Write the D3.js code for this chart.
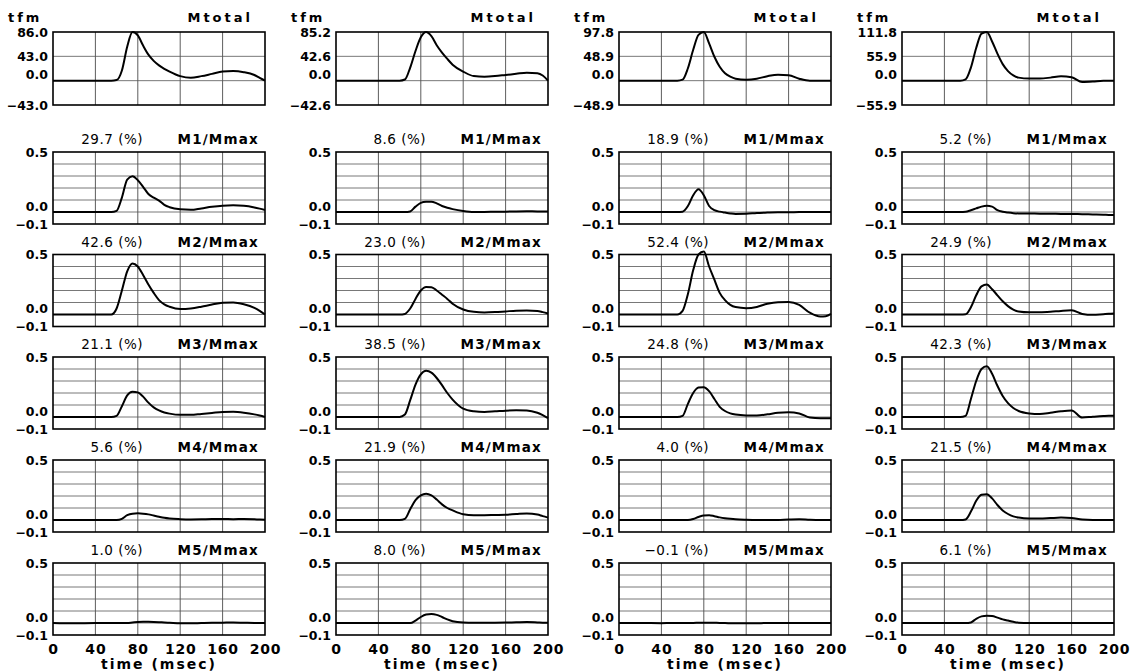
<!DOCTYPE html>
<html>
<head>
<meta charset="utf-8">
<script src="https://cdn.jsdelivr.net/npm/d3@7"></script>
<style>
  body { margin: 0; background: #fff; }
  text { font-family: "DejaVu Sans", sans-serif; fill: #000; }
</style>
</head>
<body>
<div id="chart-area"></div>
<script>
// sample times (msec), shared by every curve
var times = [0, 20, 40, 50, 55, 60, 65, 70, 75, 80, 85, 90, 95, 100, 105, 110, 120, 130, 140, 150, 160, 170, 180, 190, 195, 200]
var timeTicks = [0, 40, 80, 120, 160, 200]

// peak of the total moment per column (tfm)
var totalMax = [86.0, 85.2, 97.8, 111.8]
var modeNames = ["M1", "M2", "M3", "M4", "M5"]
// share of each mode (%), one row per column
var modePct = [
    [29.7, 42.6, 21.1, 5.6, 1.0],
    [8.6, 23.0, 38.5, 21.9, 8.0],
    [18.9, 52.4, 24.8, 4.0, -0.1],
    [5.2, 24.9, 42.3, 21.5, 6.1]
]

// Mtotal (tfm), one series per column
var mTotal = [
    [0, 0, 0, 0, 0, 1, 18, 60, 86, 80, 62, 46, 35, 27, 21, 16, 8, 5, 8, 12, 16, 17, 15, 10, 5, 0],
    [0, 0, 0, 0, 0, 0, 2, 23, 52, 76, 85.2, 78, 62, 49, 38, 28, 16, 8, 7, 8, 10, 12, 14, 13, 9, 0],
    [0, 0, 0, 0, 0, 2, 25, 62, 92, 97.8, 75, 48, 28, 15, 8, 4, 2, 4, 9, 12, 11, 4, 0, 0, 0, 0],
    [0, 0, 0, 0, 0, 3, 30, 75, 108, 111.8, 90, 62, 38, 22, 12, 7, 5, 5, 7, 10, 8, -3, -2, 0, 0, 0]
]

// Mi/Mmax, one series per column
var m1 = [
    [0, 0, 0, 0, 0, 0.01, 0.12, 0.27, 0.297, 0.265, 0.21, 0.15, 0.12, 0.095, 0.06, 0.04, 0.022, 0.018, 0.03, 0.043, 0.052, 0.056, 0.052, 0.038, 0.028, 0.017],
    [0, 0, 0, 0, 0, 0, 0, 0.005, 0.045, 0.076, 0.085, 0.086, 0.072, 0.05, 0.035, 0.024, 0.008, 0, 0, 0.002, 0.003, 0.005, 0.006, 0.005, 0.005, 0.004],
    [0, 0, 0, 0, 0, 0.003, 0.05, 0.14, 0.189, 0.14, 0.05, 0.015, 0.003, -0.005, -0.012, -0.016, -0.015, -0.008, -0.005, -0.003, -0.003, 0, 0, 0, 0, 0],
    [0, 0, 0, 0, 0, 0.002, 0.015, 0.03, 0.045, 0.052, 0.045, 0.015, 0.002, -0.005, -0.01, -0.012, -0.013, -0.014, -0.015, -0.016, -0.017, -0.018, -0.02, -0.022, -0.024, -0.025]
]
var m2 = [
    [0, 0, 0, 0, 0, 0.05, 0.2, 0.36, 0.426, 0.4, 0.33, 0.25, 0.18, 0.12, 0.085, 0.065, 0.045, 0.05, 0.065, 0.083, 0.097, 0.1, 0.085, 0.055, 0.03, 0],
    [0, 0, 0, 0, 0, 0, 0.005, 0.05, 0.13, 0.2, 0.23, 0.228, 0.2, 0.165, 0.13, 0.09, 0.042, 0.022, 0.017, 0.02, 0.026, 0.032, 0.034, 0.03, 0.02, 0.008],
    [0, 0, 0, 0, 0, 0.03, 0.17, 0.37, 0.5, 0.524, 0.4, 0.29, 0.18, 0.12, 0.08, 0.062, 0.053, 0.063, 0.09, 0.103, 0.104, 0.08, 0.015, -0.017, -0.014, 0.005],
    [0, 0, 0, 0, 0, 0.002, 0.06, 0.16, 0.235, 0.249, 0.21, 0.16, 0.11, 0.07, 0.04, 0.025, 0.018, 0.018, 0.022, 0.03, 0.035, 0.005, -0.003, 0.003, 0.006, 0.008]
]
var m3 = [
    [0, 0, 0, 0, 0, 0.01, 0.09, 0.18, 0.211, 0.205, 0.17, 0.12, 0.08, 0.055, 0.038, 0.028, 0.018, 0.018, 0.026, 0.034, 0.042, 0.043, 0.036, 0.022, 0.012, 0],
    [0, 0, 0, 0, 0, 0, 0.02, 0.14, 0.27, 0.355, 0.385, 0.37, 0.325, 0.265, 0.2, 0.145, 0.07, 0.048, 0.042, 0.047, 0.053, 0.056, 0.055, 0.035, 0.015, -0.01],
    [0, 0, 0, 0, 0, 0.01, 0.11, 0.2, 0.245, 0.248, 0.215, 0.15, 0.085, 0.05, 0.03, 0.02, 0.013, 0.012, 0.022, 0.035, 0.039, 0.03, -0.005, -0.011, -0.011, -0.011],
    [0, 0, 0, 0, 0, 0.01, 0.15, 0.3, 0.4, 0.423, 0.36, 0.26, 0.175, 0.115, 0.075, 0.05, 0.03, 0.025, 0.035, 0.048, 0.055, -0.005, 0.002, 0.008, 0.01, 0.01]
]
var m4 = [
    [0, 0, 0, 0, 0, 0, 0.01, 0.04, 0.053, 0.056, 0.053, 0.047, 0.037, 0.027, 0.018, 0.012, 0.007, 0.005, 0.006, 0.008, 0.008, 0.007, 0.008, 0.006, 0.004, 0.003],
    [0, 0, 0, 0, 0, 0, 0.01, 0.09, 0.165, 0.205, 0.219, 0.205, 0.17, 0.13, 0.1, 0.08, 0.048, 0.04, 0.04, 0.042, 0.044, 0.05, 0.055, 0.045, 0.032, 0.02],
    [0, 0, 0, 0, 0, 0, 0, 0.008, 0.025, 0.038, 0.04, 0.032, 0.022, 0.015, 0.01, 0.006, 0.002, 0, 0, 0.001, 0.004, 0.006, 0.002, 0, 0, 0],
    [0, 0, 0, 0, 0, 0.005, 0.07, 0.16, 0.21, 0.215, 0.18, 0.125, 0.08, 0.05, 0.03, 0.02, 0.012, 0.012, 0.016, 0.02, 0.016, 0.004, 0, 0, 0, 0]
]
var m5 = [
    [0, -0.003, 0, 0, 0, 0, 0, 0, 0.004, 0.008, 0.01, 0.01, 0.009, 0.007, 0.004, 0.002, -0.002, -0.003, 0, 0.002, 0.003, 0.004, 0.002, 0, 0, 0],
    [0, 0, 0, 0, 0, 0, 0, 0, 0.02, 0.05, 0.07, 0.075, 0.068, 0.05, 0.03, 0.015, 0.005, 0.003, 0.003, 0.003, 0.004, 0.006, 0.008, 0.005, 0.003, 0.003],
    [0, 0, -0.002, 0, 0, 0, 0, 0, 0.002, 0.003, 0.003, 0.002, 0, 0, -0.002, -0.003, -0.003, -0.002, 0, 0, 0.001, 0.001, 0, 0, 0, 0],
    [0, 0, 0, 0, 0, 0, 0.005, 0.035, 0.055, 0.061, 0.058, 0.045, 0.03, 0.02, 0.01, 0.003, 0, 0, 0, 0, 0, 0, 0, 0, 0, 0]
]
var modeSeries = [m1, m2, m3, m4, m5]

var ratioTicks = [0.5, 0.0, -0.1]
var ratioGrid = [0, 0.1, 0.2, 0.3, 0.4]

// Layout
var width = 1140, height = 672
var colX = [53, 336, 619, 902]
var panelW = 212
var totalTop = 32, totalH = 73
var rowTop = [152, 254.5, 357, 460, 563]
var rowH = 72

var svg = d3.select("#chart-area")
    .append("svg")
        .attr("width", width)
        .attr("height", height)

var x = d3.scaleLinear().domain([0, 200]).range([0, panelW])
var fmt = d3.format(".1f")

function drawPanel(g, y, hGrid, yTicks, values, h) {
    // grid
    g.selectAll(".vgrid")
        .data([40, 80, 120, 160])
        .enter().append("line")
        .attr("x1", d => x(d)).attr("x2", d => x(d))
        .attr("y1", 0).attr("y2", h)
        .attr("stroke", "#333").attr("stroke-width", 0.8)
    g.selectAll(".hgrid")
        .data(hGrid)
        .enter().append("line")
        .attr("x1", 0).attr("x2", panelW)
        .attr("y1", d => y(d)).attr("y2", d => y(d))
        .attr("stroke", "#555").attr("stroke-width", 0.8)

    // y labels
    var yAxis = d3.axisLeft(y)
        .tickValues(yTicks)
        .tickSize(0)
        .tickPadding(5)
        .tickFormat(fmt)
    var ya = g.append("g").call(yAxis)
    ya.select(".domain").remove()
    ya.selectAll("text")
        .attr("font-family", "DejaVu Sans")
        .attr("font-weight", "bold")
        .attr("font-size", 12.5)
        .attr("fill", "#000")
    // zero label sits a little above its line
    ya.selectAll(".tick").filter(d => d === 0).select("text").attr("y", -6)

    // curve
    var line = d3.line()
        .x((d, i) => x(times[i]))
        .y(d => y(d))
        .curve(d3.curveMonotoneX)
    g.append("path")
        .datum(values)
        .attr("fill", "none")
        .attr("stroke", "#000")
        .attr("stroke-width", 2)
        .attr("stroke-linejoin", "round")
        .attr("d", line)

    // frame
    g.append("rect")
        .attr("width", panelW).attr("height", h)
        .attr("fill", "none")
        .attr("stroke", "#000")
        .attr("stroke-width", 1.6)
}

for (var c = 0; c < 4; c++) {
    // Mtotal panel
    var max = totalMax[c]
    var yT = d3.scaleLinear().domain([-max / 2, max]).range([totalH, 0])
    var gT = svg.append("g")
        .attr("transform", "translate(" + colX[c] + ", " + totalTop + ")")
    drawPanel(gT, yT, [0, max / 2], [max, max / 2, 0, -max / 2], mTotal[c], totalH)

    gT.append("text")
        .attr("x", -45).attr("y", -10)
        .attr("font-size", 13)
        .attr("font-weight", "bold")
        .attr("letter-spacing", 3)
        .text("tfm")
    gT.append("text")
        .attr("x", panelW - 12).attr("y", -10)
        .attr("text-anchor", "end")
        .attr("font-size", 13)
        .attr("font-weight", "bold")
        .attr("letter-spacing", 3)
        .text("Mtotal")

    // mode panels
    for (var r = 0; r < 5; r++) {
        var yR = d3.scaleLinear().domain([-0.1, 0.5]).range([rowH, 0])
        var g = svg.append("g")
            .attr("transform", "translate(" + colX[c] + ", " + rowTop[r] + ")")
        drawPanel(g, yR, ratioGrid, ratioTicks, modeSeries[r][c], rowH)

        g.append("text")
            .attr("x", 90).attr("y", -8)
            .attr("text-anchor", "end")
            .attr("font-size", 13.5)
            .attr("letter-spacing", 0.5)
            .text(fmt(modePct[c][r]) + " (%)")
        g.append("text")
            .attr("x", panelW - 6).attr("y", -8)
            .attr("text-anchor", "end")
            .attr("font-size", 13.5)
            .attr("font-weight", "bold")
            .attr("letter-spacing", 1.2)
            .text(modeNames[r] + "\u2215Mmax")

        if (r === 4) {
            var xAxis = d3.axisBottom(x)
                .tickValues(timeTicks)
                .tickSize(0)
                .tickPadding(9)
                .tickFormat(d3.format("d"))
            var xa = g.append("g")
                .attr("transform", "translate(0, " + rowH + ")")
                .call(xAxis)
            xa.select(".domain").remove()
            xa.selectAll("text")
                .attr("font-family", "DejaVu Sans")
                .attr("font-weight", "bold")
                .attr("font-size", 14)
                .attr("letter-spacing", 0.8)
                .attr("fill", "#000")

            g.append("text")
                .attr("x", panelW / 2).attr("y", rowH + 34)
                .attr("text-anchor", "middle")
                .attr("font-size", 14)
                .attr("font-weight", "bold")
                .attr("letter-spacing", 2)
                .text("time (msec)")
        }
    }
}
</script>
</body>
</html>
